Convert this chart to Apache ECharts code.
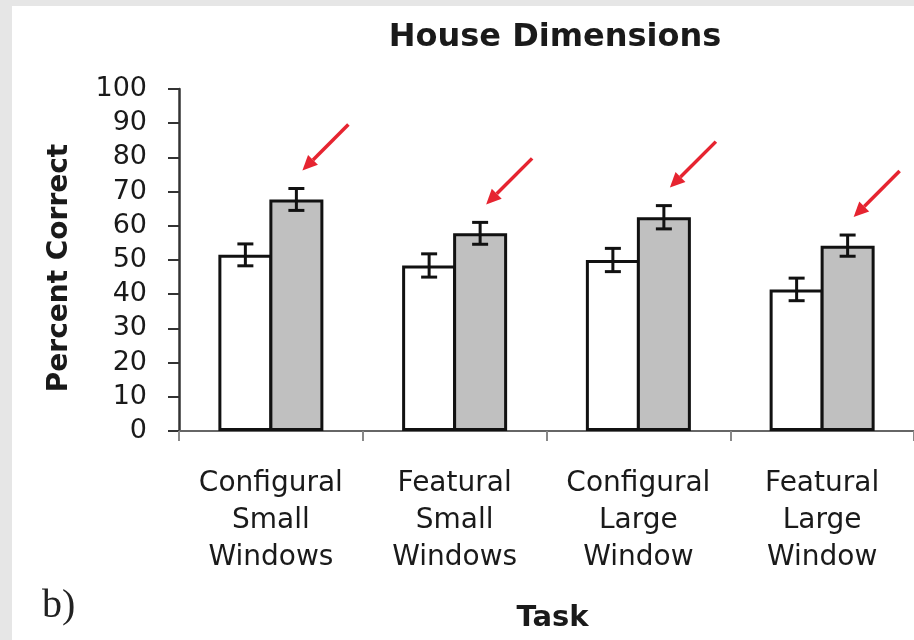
<!DOCTYPE html>
<html>
<head>
<meta charset="utf-8">
<script src="https://cdn.jsdelivr.net/npm/echarts@6/dist/echarts.min.js"></script>
<style>
  html, body { margin: 0; padding: 0; background: #fff; }
  #chart { width: 914px; height: 640px; }
</style>
</head>
<body>
<div id="chart"></div>
<script>
// Task categories along the x axis
const categories = [
  'Configural\nSmall\nWindows',
  'Featural\nSmall\nWindows',
  'Configural\nLarge\nWindow',
  'Featural\nLarge\nWindow'
];
// Mean percent correct for the two conditions (white / gray bars)
const whiteMeans = [51.5, 48.4, 50.0, 41.4];
const grayMeans  = [67.7, 57.8, 62.5, 54.2];
// Error-bar half lengths
const whiteErrors = [3.2, 3.4, 3.4, 3.3];
const grayErrors  = [3.2, 3.2, 3.4, 3.1];
// Y axis ticks
const yMin = 0, yMax = 100, yStep = 10;

const BAR_W = 54;
const BAR_OVERLAP = 3;   // neighbouring bars share one outline
const FONT = '"DejaVu Sans", sans-serif';
const INK = '#1a1a1a';

const chart = echarts.init(document.getElementById('chart'), null, { renderer: 'canvas' });

// error bar items: [categoryIndex, mean, error, side(-1 white, +1 gray)]
const errorItems = [];
categories.forEach((c, i) => {
  errorItems.push([i, whiteMeans[i], whiteErrors[i], -1]);
  errorItems.push([i, grayMeans[i], grayErrors[i], 1]);
});

// red pointer arrows aimed at the top of each gray bar
const arrowItems = categories.map((c, i) => [i, grayMeans[i] + grayErrors[i]]);

const HALF_STEP = (BAR_W - BAR_OVERLAP) / 2;

function renderErrorBar(params, api) {
  const cat = api.value(0), mean = api.value(1), err = api.value(2), side = api.value(3);
  const top = api.coord([cat, mean + err]);
  const bot = api.coord([cat, mean - err]);
  const x = top[0] + side * HALF_STEP;
  const cap = 8;
  const style = { stroke: '#111', lineWidth: 3 };
  return {
    type: 'group',
    children: [
      { type: 'line', shape: { x1: x, y1: top[1], x2: x, y2: bot[1] }, style },
      { type: 'line', shape: { x1: x - cap, y1: top[1], x2: x + cap, y2: top[1] }, style },
      { type: 'line', shape: { x1: x - cap, y1: bot[1], x2: x + cap, y2: bot[1] }, style }
    ]
  };
}

function renderArrow(params, api) {
  const p = api.coord([api.value(0), api.value(1)]);
  const tipX = p[0] + HALF_STEP + 6;
  const tipY = p[1] - 18;
  const len = 46;
  const head = 15, half = 7;
  // unit vector from tip toward tail (up-right)
  const ux = Math.SQRT1_2, uy = -Math.SQRT1_2;
  const bx = tipX + ux * head, by = tipY + uy * head;
  const px = -uy, py = ux;
  return {
    type: 'group',
    children: [
      { type: 'line', shape: { x1: bx, y1: by, x2: tipX + len, y2: tipY - len },
        style: { stroke: '#e62430', lineWidth: 3.5 } },
      { type: 'polygon', shape: { points: [[tipX, tipY], [bx + px * half, by + py * half], [bx - px * half, by - py * half]] },
        style: { fill: '#e62430' } }
    ]
  };
}

const option = {
  backgroundColor: '#ffffff',
  animation: false,
  title: {
    text: 'House Dimensions',
    left: 555,
    top: 22,
    textAlign: 'center',
    padding: 0,
    textStyle: { fontFamily: FONT, fontWeight: 'bold', fontSize: 32, color: INK }
  },
  graphic: [
    { type: 'rect', shape: { x: 0, y: 0, width: 12, height: 640 }, style: { fill: '#e6e6e6' }, silent: true },
    { type: 'rect', shape: { x: 0, y: 0, width: 914, height: 6 }, style: { fill: '#e6e6e6' }, silent: true },
    { type: 'text', left: 42, top: 586,
      style: { text: 'b)', font: '40px "Liberation Serif", serif', fill: '#222' } }
  ],
  grid: { left: 179, top: 89, width: 738, height: 342, containLabel: false },
  xAxis: {
    type: 'category',
    data: categories,
    name: 'Task',
    nameLocation: 'middle',
    nameGap: 173,
    nameTextStyle: { fontFamily: FONT, fontWeight: 'bold', fontSize: 29, color: INK, padding: [0, 0, 0, 12] },
    axisLine: { lineStyle: { color: '#666', width: 2 } },
    axisTick: { show: true, alignWithLabel: false, length: 10, lineStyle: { color: '#888', width: 2 } },
    axisLabel: { interval: 0, margin: 34, fontFamily: FONT, fontSize: 28, lineHeight: 37, color: INK }
  },
  yAxis: {
    type: 'value',
    min: yMin, max: yMax, interval: yStep,
    name: 'Percent Correct',
    nameLocation: 'middle',
    nameRotate: 90,
    nameGap: 105,
    nameTextStyle: { fontFamily: FONT, fontWeight: 'bold', fontSize: 28, color: INK, padding: [0, 16, 0, 0] },
    axisLine: { show: true, lineStyle: { color: '#333', width: 2.5 } },
    axisTick: { show: true, length: 11, lineStyle: { color: '#333', width: 2 } },
    axisLabel: { margin: 32, fontFamily: FONT, fontSize: 27, color: INK },
    splitLine: { show: false }
  },
  series: [
    {
      type: 'bar', data: whiteMeans, barWidth: BAR_W, barGap: (-100 * BAR_OVERLAP / BAR_W) + '%',
      itemStyle: { color: '#ffffff', borderColor: '#111', borderWidth: 3 }
    },
    {
      type: 'bar', data: grayMeans, barWidth: BAR_W, barGap: (-100 * BAR_OVERLAP / BAR_W) + '%',
      itemStyle: { color: '#c0c0c0', borderColor: '#111', borderWidth: 3 }
    },
    { type: 'custom', data: errorItems, renderItem: renderErrorBar, z: 5 },
    { type: 'custom', data: arrowItems, renderItem: renderArrow, z: 6 }
  ]
};

chart.setOption(option);
</script>
</body>
</html>
